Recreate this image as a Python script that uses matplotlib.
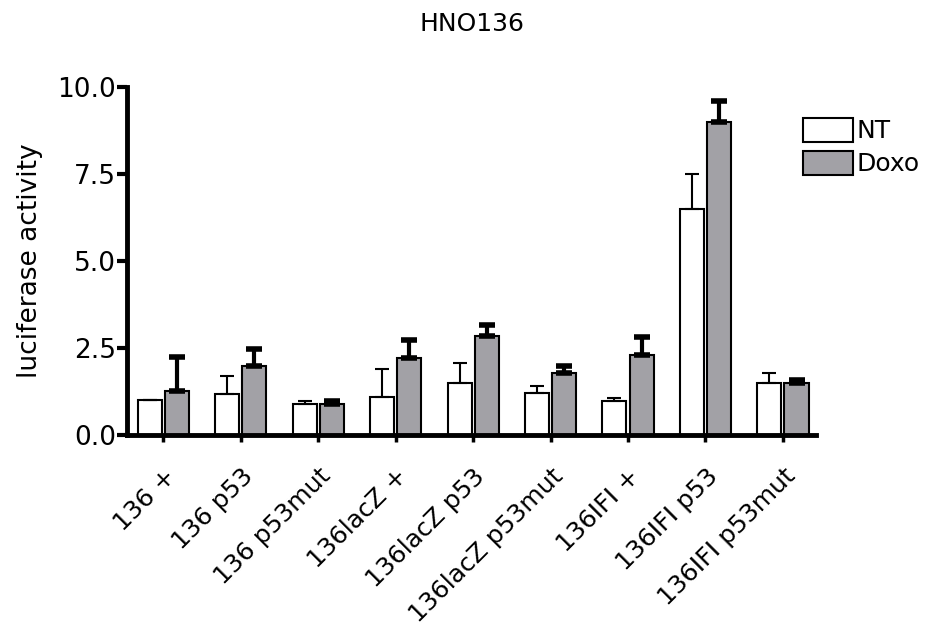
import numpy as np
import matplotlib.pyplot as plt

# data
groups = ['136 +', '136 p53', '136 p53mut', '136lacZ +', '136lacZ p53',
          '136lacZ p53mut', '136IFI +', '136IFI p53', '136IFI p53mut']
nt = [1.0, 1.18, 0.88, 1.08, 1.48, 1.2, 0.97, 6.5, 1.48]
nt_err = [0.0, 0.5, 0.1, 0.8, 0.58, 0.2, 0.1, 1.0, 0.3]
doxo = [1.25, 1.97, 0.88, 2.22, 2.83, 1.79, 2.3, 9.0, 1.48]
doxo_err = [1.0, 0.5, 0.1, 0.5, 0.32, 0.2, 0.52, 0.6, 0.1]

x = np.arange(len(groups))
w = 0.31
off = 0.175

fig = plt.figure(figsize=(9.35, 6.34), dpi=100)
ax = fig.add_axes([0.136, 0.314, 0.737, 0.549])

ax.bar(x - off, nt, w, color='white', edgecolor='black', linewidth=1.5,
       label='NT', zorder=2)
ax.bar(x + off, doxo, w, color='#a2a1a6', edgecolor='black', linewidth=1.5,
       label='Doxo', zorder=2)

# upper error bars only
ax.errorbar(x - off, nt, yerr=[np.zeros(len(nt)), nt_err], fmt='none',
            ecolor='black', elinewidth=1.5, capsize=5, capthick=1.5, zorder=3)
ax.errorbar(x + off, doxo, yerr=[np.zeros(len(doxo)), doxo_err], fmt='none',
            ecolor='black', elinewidth=3, capsize=5.5, capthick=4, zorder=3)

ax.set_xlim(-0.466, 8.43)
ax.set_ylim(0, 10)
ax.set_yticks([0, 2.5, 5, 7.5, 10])
ax.set_yticklabels(['0.0', '2.5', '5.0', '7.5', '10.0'], fontsize=19)
ax.set_xticks(x)
ax.set_xticklabels(groups, rotation=45, ha='right', rotation_mode='anchor',
                   fontsize=18)

for s in ['top', 'right']:
    ax.spines[s].set_visible(False)
for s in ['left', 'bottom']:
    ax.spines[s].set_linewidth(3.5)
ax.tick_params(axis='y', length=7, width=3, pad=1)
ax.tick_params(axis='x', length=5, width=2.5, pad=16)

ax.set_ylabel('luciferase activity', fontsize=19, labelpad=10)
ax.set_title('HNO136', fontsize=18, pad=40)

fig.legend(loc='upper left', bbox_to_anchor=(0.848, 0.83), frameon=False,
           fontsize=18, handlelength=2.0, handleheight=1.1, handletextpad=0.15,
           labelspacing=0.3, borderaxespad=0)

fig.savefig('out.png', dpi=100)
